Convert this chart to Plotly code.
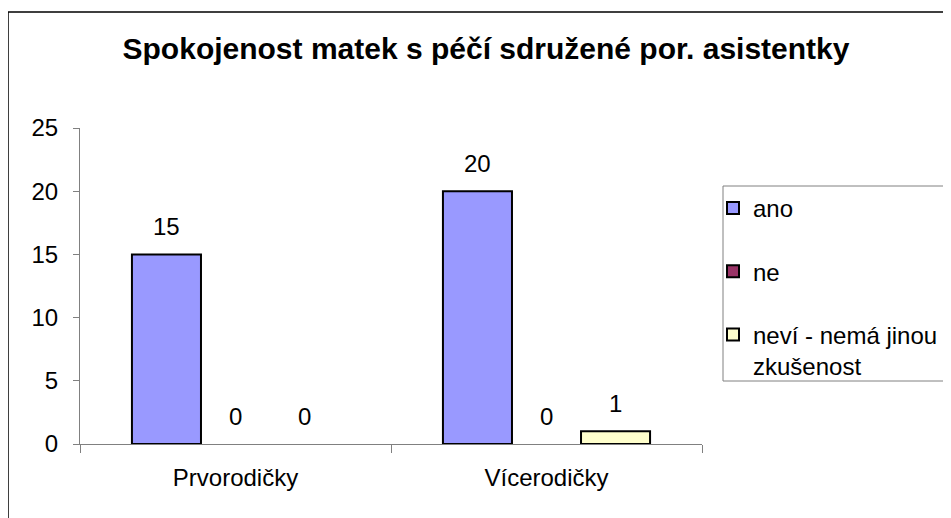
import plotly.graph_objects as go

categories = ["Prvorodičky", "Vícerodičky"]
series_names = ["ano", "ne", "neví - nemá jinou<br>zkušenost"]
ano = [15, 20]
ne = [0, 0]
nevi = [0, 1]
colors = ["#9999FF", "#993366", "#FFFFCC"]
title = "Spokojenost matek s péčí sdružené por. asistentky"
y_ticks = [0, 5, 10, 15, 20, 25]

# page body has an 8px margin, so figure px = screen px - 8
OFF = 8
W, H = 951 - OFF, 518 - OFF
ML, MR, MT, MB = 80 - OFF, 951 - 702, 128 - OFF, 518 - 444
PW, PH = W - ML - MR, H - MT - MB
BARGAP = 0.334
FONT = "Arial, 'Liberation Sans', sans-serif"

def px_x(px):
    return (px - OFF - ML) / PW

def px_y(py):
    return (H - MB - (py - OFF)) / PH

fig = go.Figure()
series = [ano, ne, nevi]
for i, (name, vals, col) in enumerate(zip(series_names, series, colors)):
    # zero-height bars are not drawn (no outline line on the axis)
    fig.add_trace(go.Bar(
        x=categories, y=[v if v != 0 else None for v in vals], name=name,
        legendgroup=str(i),
        marker=dict(color=col, line=dict(color="black", width=2)),
        hoverinfo="skip",
    ))

# data labels
bar_px = PW / len(categories) * (1 - BARGAP) / len(series)
for i, vals in enumerate(series):
    off = (i - (len(series) - 1) / 2) * bar_px
    for c, v in zip(categories, vals):
        fig.add_annotation(x=c, y=v, text=str(v), showarrow=False, xshift=off,
                           yanchor="bottom", yshift=12,
                           font=dict(family=FONT, size=24, color="black"))

shapes = [
    # outer chart frame
    dict(type="rect", xref="paper", yref="paper", x0=px_x(8), x1=px_x(1000),
         y0=px_y(560), y1=px_y(12), line=dict(color="black", width=1.5)),
    # legend frame
    dict(type="rect", xref="paper", yref="paper", x0=px_x(723), x1=px_x(1000),
         y0=px_y(381), y1=px_y(186), line=dict(color="#808080", width=1)),
]

fig.update_layout(
    width=W, height=H,
    margin=dict(l=ML, r=MR, t=MT, b=MB, autoexpand=False),
    paper_bgcolor="white", plot_bgcolor="white",
    barmode="group", bargap=BARGAP, bargroupgap=0,
    font=dict(family=FONT, size=24, color="black"),
    title=dict(text="<b>" + title + "</b>", x=(486 - OFF) / W, xanchor="center",
               y=1 - (48 - OFF) / H, yanchor="middle", yref="container",
               font=dict(family=FONT, size=30, color="black")),
    showlegend=True,
    legend=dict(x=px_x(713), xanchor="left", y=px_y(186), yanchor="top",
                traceorder="grouped", tracegroupgap=29, valign="top",
                font=dict(family=FONT, size=24, color="black"),
                bgcolor="rgba(0,0,0,0)", borderwidth=0),
    shapes=shapes,
    xaxis=dict(type="category", categoryorder="array", categoryarray=categories,
               showline=True, linecolor="#808080", linewidth=1,
               ticks="outside", tickson="boundaries", ticklen=8, tickcolor="#808080",
               showgrid=False, zeroline=False, ticklabelstandoff=12,
               tickfont=dict(family=FONT, size=24, color="black")),
    yaxis=dict(range=[0, 25], tickvals=y_ticks, showline=True, linecolor="#808080",
               linewidth=1, ticks="outside", ticklen=6, tickcolor="#808080",
               showgrid=False, zeroline=False, ticklabelstandoff=10,
               tickfont=dict(family=FONT, size=24, color="black")),
)

fig.write_html("out.html")
